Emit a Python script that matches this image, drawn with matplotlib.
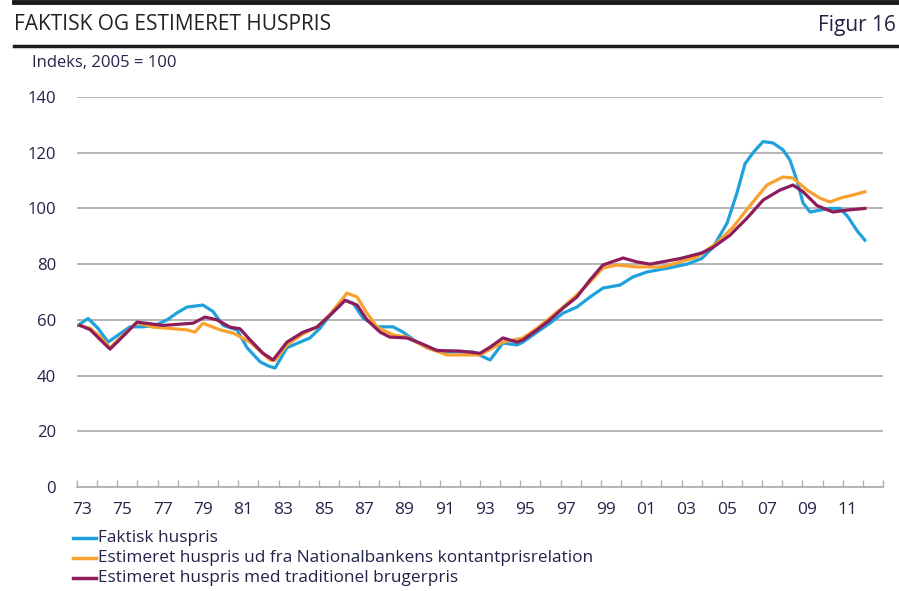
import matplotlib
matplotlib.use('Agg')
import matplotlib.pyplot as plt
from matplotlib.lines import Line2D

plt.rcParams['font.family'] = ['Open Sans', 'DejaVu Sans']

# decimal years and index values (2005 = 100)
faktisk_x = [1973.05, 1973.55, 1974.04, 1974.54, 1975.13, 1975.63, 1976.23, 1976.87, 1977.47, 1977.96,
             1978.46, 1979.25, 1979.75, 1980.25, 1980.94, 1981.44, 1982.08, 1982.48, 1982.83, 1983.42,
             1984.07, 1984.56, 1985.06, 1985.56, 1986.3, 1986.7, 1987.19, 1987.89, 1988.68, 1989.18,
             1989.87, 1990.37, 1991.01, 1992.65, 1993.5, 1994.14, 1994.84, 1995.13, 1995.83, 1996.47,
             1997.12, 1997.81, 1998.46, 1999.1, 1999.95, 2000.59, 2001.29, 2002.28, 2003.27, 2004.0,
             2004.56, 2005.26, 2005.75, 2006.15, 2006.55, 2007.05, 2007.54, 2008.04, 2008.38, 2008.73,
             2009.03, 2009.38, 2009.87, 2010.37, 2010.87, 2011.26, 2011.71, 2012.1]
faktisk_y = [58, 60.5, 57, 52, 55, 57.5, 57.5, 58, 60, 62.5,
             64.6, 65.3, 63, 58, 56.4, 50, 45, 43.5, 42.7, 50,
             52, 53.5, 57, 61.7, 67, 66, 60.7, 57.5, 57.5, 55.6,
             52, 50, 48.5, 48.5, 45.6, 51.7, 51, 52, 55.6, 58.8,
             62.4, 64.6, 68.2, 71.4, 72.5, 75.4, 77.2, 78.5, 80, 82,
             86, 94.7, 105.5, 116, 120, 124, 123.5, 121, 117.4, 110,
             102, 98.7, 99.4, 100, 100, 97, 92, 88.6]

kontant_x = [1973.15, 1973.65, 1974.14, 1974.64, 1975.13, 1975.98, 1976.77, 1978.46, 1978.86, 1979.25,
             1980.1, 1980.74, 1981.59, 1982.58, 1982.83, 1983.42, 1984.22, 1984.91, 1985.56, 1986.4,
             1986.9, 1987.39, 1987.89, 1988.68, 1989.38, 1990.37, 1991.36, 1993.0, 1994.14, 1995.13,
             1995.83, 1996.47, 1997.12, 1997.81, 1998.46, 1999.1, 1999.8, 2000.79, 2002.08, 2003.77,
             2004.76, 2005.56, 2006.4, 2007.24, 2008.04, 2008.53, 2009.23, 2009.87, 2010.37, 2010.87,
             2011.51, 2012.1]
kontant_y = [58, 57, 54, 50, 53.5, 59, 57.4, 56.4, 55.6, 58.8,
             56.4, 55.3, 52, 45.6, 45.5, 51, 55, 57.4, 62, 69.6,
             68.2, 62.4, 57.4, 54.6, 53.8, 50, 47.4, 47.4, 52, 53.5,
             57, 60.7, 64.6, 69, 73.6, 78.6, 79.7, 79, 79, 82.6,
             87.6, 93.3, 101, 108.4, 111.3, 110.9, 106.6, 103.7, 102.3, 103.7,
             104.8, 106]

bruger_x = [1973.15, 1973.65, 1974.14, 1974.64, 1975.13, 1975.98, 1977.27, 1978.76, 1979.35, 1979.95,
            1980.59, 1981.09, 1981.59, 1982.23, 1982.73, 1983.42, 1984.22, 1984.91, 1985.56, 1986.3,
            1986.9, 1987.39, 1988.04, 1988.53, 1989.38, 1990.02, 1990.87, 1992.0, 1993.0, 1993.5,
            1994.14, 1994.84, 1995.13, 1995.83, 1996.47, 1997.12, 1997.81, 1998.46, 1999.1, 2000.1,
            2000.79, 2001.44, 2002.93, 2004.0, 2004.56, 2005.41, 2006.25, 2007.05, 2007.89, 2008.53,
            2009.03, 2009.73, 2010.52, 2011.21, 2012.1]
bruger_y = [58, 56.5, 53, 49.5, 53, 59.2, 58, 58.8, 61, 60,
            57.4, 56.8, 52.8, 48, 45.6, 52, 55.6, 57.4, 61.7, 67,
            65.3, 60, 55.6, 53.8, 53.5, 51.7, 49, 48.8, 48, 50.2,
            53.5, 52, 52.8, 56.4, 60, 64.2, 68.2, 74.3, 79.7, 82.2,
            80.8, 80, 82, 84, 86, 90.4, 96.5, 103, 106.6, 108.4,
            106, 101, 98.7, 99.4, 100]

year_labels = ['73', '75', '77', '79', '81', '83', '85', '87', '89', '91',
               '93', '95', '97', '99', '01', '03', '05', '07', '09', '11']
y_ticks = [0, 20, 40, 60, 80, 100, 120, 140]

blue = '#1ea1dc'
orange = '#f9a12e'
purple = '#8e1c5c'
txt = '#23234a'

fig = plt.figure(figsize=(8.99, 5.91), dpi=100)
ax = fig.add_axes([77 / 899, 1 - 487 / 591, 806 / 899, 390 / 591])

ax.plot(faktisk_x, faktisk_y, color=blue, lw=2.3, solid_joinstyle='round', zorder=3)
ax.plot(kontant_x, kontant_y, color=orange, lw=2.3, solid_joinstyle='round', zorder=4)
ax.plot(bruger_x, bruger_y, color=purple, lw=2.3, solid_joinstyle='round', zorder=5)

ax.set_xlim(1973, 2013)
ax.set_ylim(0, 140)
ax.set_yticks(y_ticks)
ax.set_yticklabels([str(v) for v in y_ticks])
ax.yaxis.grid(True, color='#b0b0b0', lw=1.3)
ax.tick_params(axis='y', length=0, pad=15, labelsize=12, labelcolor=txt)

label_years = [1973.25 + 2 * i for i in range(len(year_labels))]
ax.set_xticks(label_years)
ax.set_xticklabels(year_labels)
ax.set_xticks(range(1973, 2014), minor=True)
ax.tick_params(axis='x', which='major', length=0, pad=11, labelsize=12.5, labelcolor=txt)
ax.tick_params(axis='x', which='minor', direction='in', length=5, width=1, color='#b0b0b0')

for s in ['top', 'right', 'left']:
    ax.spines[s].set_visible(False)
ax.spines['bottom'].set_color('#b0b0b0')
ax.spines['bottom'].set_linewidth(1.3)
ax.set_axisbelow(True)

# header rules and titles
fig.add_artist(Line2D([14 / 899, 1], [1 - 2 / 591, 1 - 2 / 591], color='#1a1a1a', lw=3.5))
fig.add_artist(Line2D([14 / 899, 1], [1 - 46 / 591, 1 - 46 / 591], color='#1a1a1a', lw=2.5))
fig.text(14 / 899, 1 - 25 / 591, 'FAKTISK OG ESTIMERET HUSPRIS', fontsize=15, color='#222222',
         va='center', ha='left')
fig.text(896 / 899, 1 - 25 / 591, 'Figur 16', fontsize=15, color='#222244', va='center', ha='right')
fig.text(32 / 899, 1 - 63 / 591, 'Indeks, 2005 = 100', fontsize=12, color=txt, va='center', ha='left')

# legend below the axes
legend_items = [('Faktisk huspris', blue),
                ('Estimeret huspris ud fra Nationalbankens kontantprisrelation', orange),
                ('Estimeret huspris med traditionel brugerpris', purple)]
for i, (name, col) in enumerate(legend_items):
    yy = 1 - (538 + 20 * i) / 591
    fig.add_artist(Line2D([73 / 899, 96 / 899], [yy, yy], color=col, lw=2.5))
    fig.text(98 / 899, yy, name, fontsize=12.4, color=txt, va='center', ha='left')

fig.savefig('out.png', dpi=100)
